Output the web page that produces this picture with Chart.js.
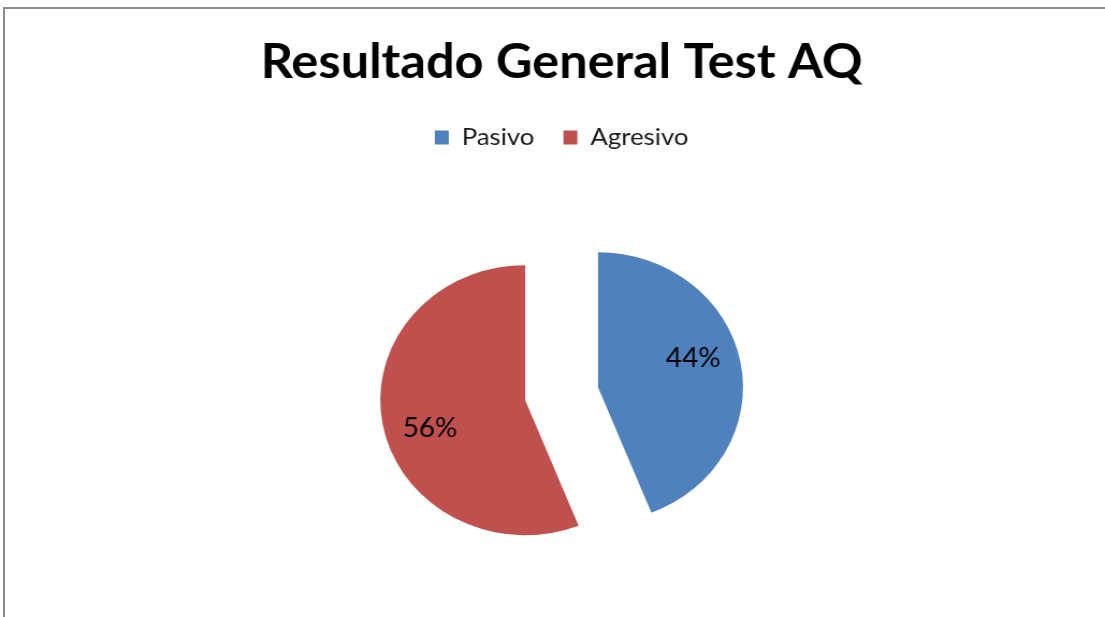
<!DOCTYPE html>
<html>
<head>
<meta charset="utf-8">
<script src="https://cdn.jsdelivr.net/npm/chart.js@4/dist/chart.umd.min.js"></script>
<style>
  html, body { margin: 0; padding: 0; background: #ffffff; overflow: hidden; width: 1105px; height: 617px; }
  ::-webkit-scrollbar { display: none; width: 0; height: 0; }
  #wrap { position: fixed; left: 0; top: 0; width: 1105px; height: 617px; overflow: hidden; }
  #c { position: absolute; left: 0; top: 0; }
  #frame { position: absolute; left: 3px; top: 7px; right: 0; bottom: 0;
           border-left: 2px solid #8c8c8c; border-top: 2px solid #8c8c8c; pointer-events: none; }
</style>
</head>
<body>
<div id="wrap">
  <canvas id="c" width="1029" height="630" style="width:1105px;height:630px;"></canvas>
  <div id="frame"></div>
</div>
<script>
// ---- data ----
const categories = ['Pasivo', 'Agresivo'];
const values = [44, 56];
const colors = ['#4F81BD', '#C0504D'];
const chartTitle = 'Resultado General Test AQ';

// ---- style constants ----
const EXPLODE = 34.5;          // explosion distance (px)
const PIE_RADIUS = 135;
const LABEL_R = 0.69;
const LABEL_ROT = -7 * Math.PI / 180;

const explodePlugin = {
  id: 'explode',
  afterDatasetUpdate(chart, args) {
    const meta = chart.getDatasetMeta(args.index);
    meta.data.forEach(arc => {
      const mid = (arc.startAngle + arc.endAngle) / 2;
      arc.x += Math.cos(mid) * EXPLODE;
      arc.y += Math.sin(mid) * EXPLODE;
    });
  }
};

const labelPlugin = {
  id: 'pctLabels',
  afterDatasetsDraw(chart) {
    const ctx = chart.ctx;
    const meta = chart.getDatasetMeta(0);
    const data = chart.data.datasets[0].data;
    const total = data.reduce((a, b) => a + b, 0);
    ctx.save();
    ctx.font = '26px Lato';
    ctx.fillStyle = '#000000';
    ctx.textAlign = 'center';
    ctx.textBaseline = 'middle';
    meta.data.forEach((arc, i) => {
      const mid = (arc.startAngle + arc.endAngle) / 2 + LABEL_ROT;
      const r = arc.outerRadius * LABEL_R;
      const txt = Math.round(data[i] / total * 100) + '%';
      ctx.fillText(txt, arc.x + Math.cos(mid) * r, arc.y + Math.sin(mid) * r);
    });
    ctx.restore();
  }
};

new Chart(document.getElementById('c'), {
  type: 'pie',
  data: {
    labels: categories,
    datasets: [{
      data: values,
      backgroundColor: colors,
      borderWidth: 0
    }]
  },
  options: {
    responsive: false,
    animation: false,
    events: [],
    radius: PIE_RADIUS,
    layout: { padding: { top: 0, left: 17, right: 0, bottom: 2 } },
    plugins: {
      title: {
        display: true,
        text: chartTitle,
        color: '#000000',
        font: { family: 'Lato', size: 47, weight: 'bold', lineHeight: 1.2 },
        padding: { top: 35, bottom: 7 }
      },
      legend: {
        display: true,
        position: 'top',
        labels: {
          color: '#1a1a1a',
          font: { family: 'Lato', size: 24 },
          boxWidth: 13,
          boxHeight: 14,
          padding: 27
        }
      },
      tooltip: { enabled: false }
    }
  },
  plugins: [explodePlugin, labelPlugin]
});
</script>
</body>
</html>
